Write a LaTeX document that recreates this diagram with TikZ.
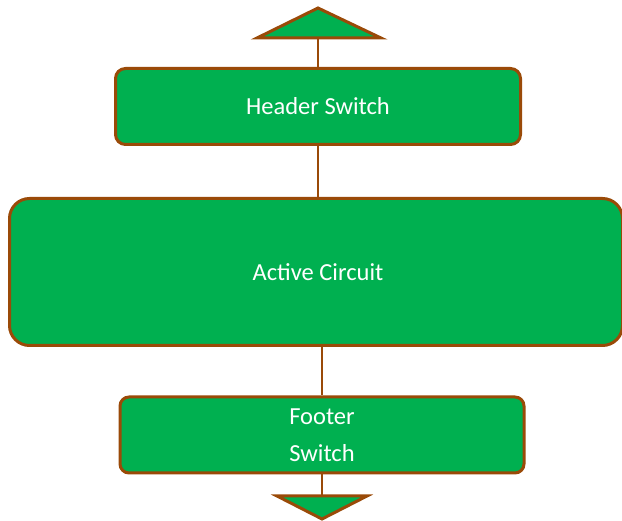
\documentclass[tikz,border=0pt]{standalone}
\usepackage{fontspec}
\setmainfont{Carlito}
\definecolor{boxgreen}{HTML}{00B050}
\definecolor{edgebrown}{HTML}{9A4A08}
\begin{document}
\begin{tikzpicture}[x=1pt,y=-1pt,
  blockbox/.style={draw=edgebrown, fill=boxgreen, line width=3pt, text=white,
    font=\fontsize{24.5}{37}\selectfont, align=center, inner sep=0pt},
  link/.style={draw=edgebrown, line width=1.5pt},
  tri/.style={draw=edgebrown, fill=boxgreen, line width=3pt, line join=miter}]
\useasboundingbox (0,0) rectangle (622,521);
\node[blockbox, rounded corners=10pt, minimum width=405pt, minimum height=76pt] (hdr) at (318,106.5) {\raisebox{-1pt}{Header Switch}};
\node[blockbox, rounded corners=20pt, minimum width=613pt, minimum height=147pt] (act) at (316,272) {};
\node[text=white, font=\fontsize{24.5}{37}\selectfont] (actl) at (318,272.5) {Active Circuit};
\node[blockbox, rounded corners=9pt, minimum width=404pt, minimum height=76pt] (ftr) at (322,435) {\raisebox{-2pt}{\parbox{4cm}{\centering Footer\\Switch}}};
\coordinate (tt) at (318,38);
\coordinate (bt) at (322,496);
\draw[tri] (257,38) -- (318,8) -- (381,38) -- cycle;
\draw[tri] (277,496) -- (367,496) -- (322,519) -- cycle;
\draw[link] (tt) -- (hdr.north);
\draw[link] (hdr.south) -- (hdr.south |- act.north);
\draw[link] (ftr.north |- act.south) -- (ftr.north);
\draw[link] (ftr.south) -- (bt);
\end{tikzpicture}
\end{document}
